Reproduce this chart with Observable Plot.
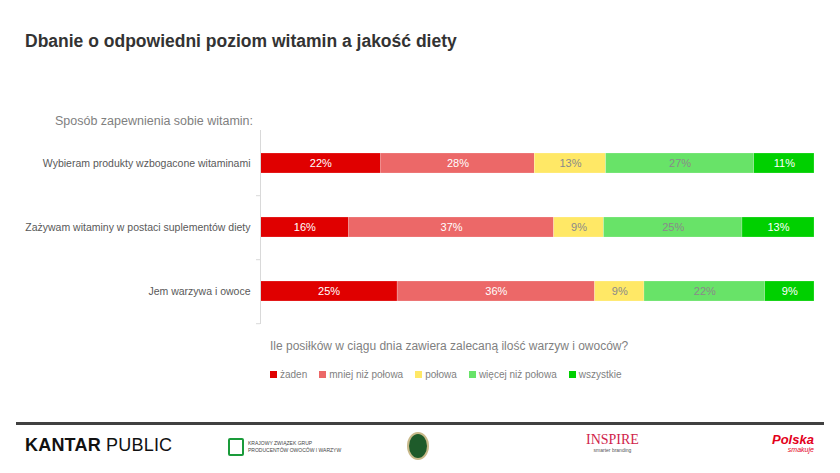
<!DOCTYPE html>
<html><head><meta charset="utf-8">
<script src="https://cdn.jsdelivr.net/npm/d3@7"></script>
<script src="https://cdn.jsdelivr.net/npm/@observablehq/plot@0.6"></script>
<style>
body{margin:0;width:840px;height:473px;position:relative;font-family:"Liberation Sans",Arial,sans-serif;background:#fff;overflow:hidden}
.abs{position:absolute;white-space:nowrap}
#title{left:25px;top:31px;font-size:17.5px;font-weight:bold;color:#333}
#sub{left:55px;top:114px;font-size:12.5px;color:#7f7f7f}
#chart{position:absolute;left:0;top:120px}
#q{left:270px;top:339px;font-size:12px;color:#7f7f7f}
#legend{left:270px;top:369px;font-size:10px;color:#7f7f7f;display:flex;gap:0}
#legend span.it{display:inline-flex;align-items:center;margin-right:12px}
#legend i{display:inline-block;width:7px;height:7px;margin-right:3px}
#rule{position:absolute;left:16px;top:422px;width:808px;height:3px;background:#404040}
</style></head><body>
<div id="title" class="abs">Dbanie o odpowiedni poziom witamin a jakość diety</div>
<div id="sub" class="abs">Sposób zapewnienia sobie witamin:</div>
<div id="chart"></div>
<div id="q" class="abs">Ile posiłków w ciągu dnia zawiera zalecaną ilość warzyw i owoców?</div>
<div id="legend" class="abs"></div>
<div id="rule"></div>
<div class="abs" style="left:25px;top:435px;font-size:18px;color:#111;letter-spacing:0.2px"><b>KANTAR</b> PUBLIC</div>
<div class="abs" style="left:228px;top:438px;display:flex;align-items:center">
  <div style="width:12px;height:14px;border:2px solid #1a9b3a;border-radius:2px;margin-right:4px"></div>
  <div style="font-size:5px;color:#444;line-height:7px">KRAJOWY ZWIĄZEK GRUP<br>PRODUCENTÓW OWOCÓW I WARZYW</div>
</div>
<div class="abs" style="left:407px;top:432px;width:18px;height:24px;border-radius:50%;background:#1e5b2a;border:2px solid #c8b98a"></div>
<div class="abs" style="left:586px;top:433px;text-align:center;color:#d0234a;line-height:14px"><div style="font-size:14px;font-family:'Liberation Serif',serif">INSPIRE</div><div style="font-size:5px;line-height:6px;color:#555">smarter branding</div></div>
<div class="abs" style="left:772px;top:434px;color:#e3001b;text-align:right;line-height:12px"><div style="font-size:13px;font-weight:bold;font-style:italic">Polska</div><div style="font-size:7px;line-height:8px;font-style:italic">smakuje</div></div>
<script>
const categories = ["Wybieram produkty wzbogacone witaminami","Zażywam witaminy w postaci suplementów diety","Jem warzywa i owoce"];
const series = ["żaden","mniej niż połowa","połowa","więcej niż połowa","wszystkie"];
const values = [
  [22,28,13,27,11],
  [16,37,9,25,13],
  [25,36,9,22,9]
];
const colors = ["#E00000","#EC6868","#FFE866","#68E368","#00D000"];
const labelColors = ["#ffffff","#ffffff","#8a8a8a","#8a8a8a","#ffffff"];

const data = [];
categories.forEach((c,i)=>series.forEach((s,j)=>data.push({category:c,series:s,value:values[i][j]})));

const lc = new Map(series.map((s,i)=>[s,labelColors[i]]));

const chart = Plot.plot({
  width: 840, height: 208,
  marginLeft: 260, marginRight: 26, marginTop: 10, marginBottom: 5,
  style: {fontFamily: "Liberation Sans, Arial, sans-serif"},
  x: {domain: [0,1], axis: null},
  y: {domain: categories, paddingInner: 0.69, paddingOuter: 0.34, label: null},
  color: {domain: series, range: colors},
  marks: [
    Plot.barX(data, Plot.stackX({offset: "normalize", order: null, x: "value", y: "category", fill: "series", stroke: "#fff", strokeOpacity: 0.4, strokeWidth: 0.5})),
    Plot.text(data, Plot.stackX({offset: "normalize", order: null, x: "value", y: "category", z: "series", text: d => d.value + "%", fill: d => lc.get(d.series), fontSize: 11})),
    Plot.axisY({tickSize: 0, tickPadding: 10, fontSize: 10.5, color: "#595959", label: null}),
    Plot.axisY({text: null, tickSize: 4, dy: 32.2, stroke: "#d9d9d9", label: null}),
    Plot.frame({anchor: "left", stroke: "#d9d9d9"})
  ]
});
document.getElementById("chart").appendChild(chart);

const lg = document.getElementById("legend");
series.forEach((s,i)=>{
  const el = document.createElement("span");
  el.className = "it";
  el.innerHTML = `<i style="background:${colors[i]}"></i>${s}`;
  lg.appendChild(el);
});
</script>
</body></html>
